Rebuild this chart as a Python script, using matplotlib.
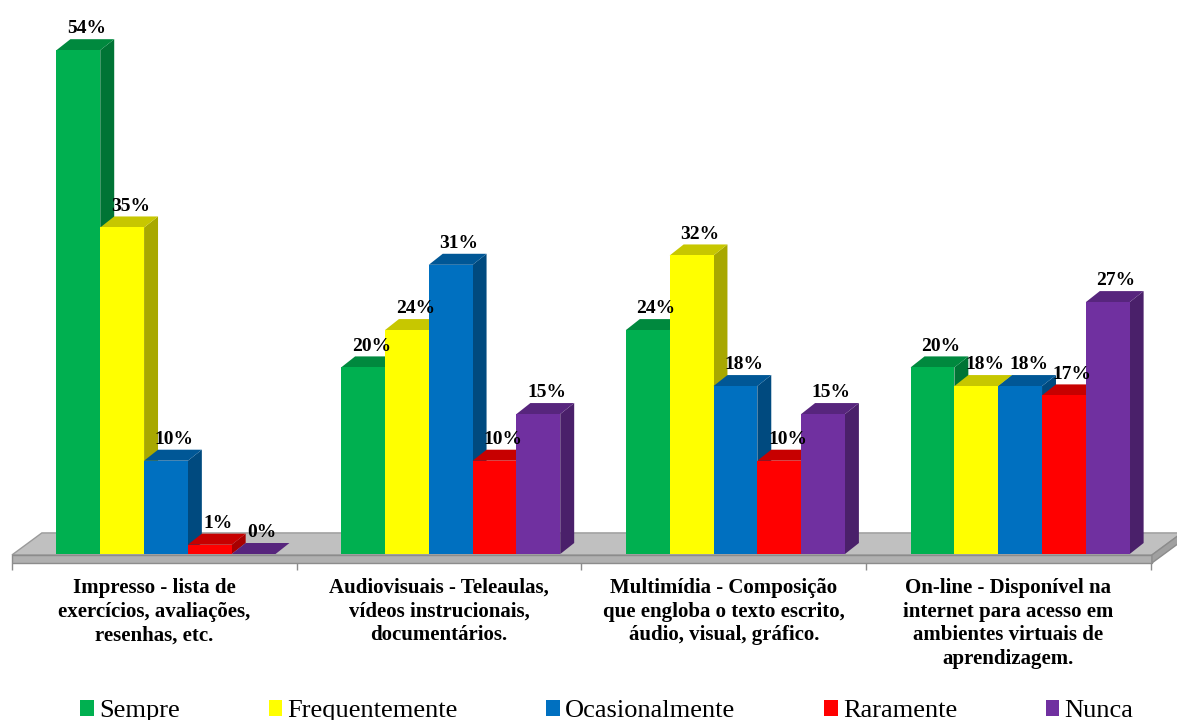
import matplotlib
matplotlib.use("Agg")
from matplotlib import pyplot as plt
from matplotlib.patches import Polygon, Patch
import numpy as np

plt.rcParams['font.family'] = ['Liberation Serif', 'DejaVu Serif']

categories = [
    "Impresso - lista de\nexercícios, avaliações,\nresenhas, etc.",
    "Audiovisuais - Teleaulas,\nvídeos instrucionais,\ndocumentários.",
    "Multimídia - Composição\nque engloba o texto escrito,\náudio, visual, gráfico.",
    "On-line - Disponível na\ninternet para acesso em\nambientes virtuais de\naprendizagem.",
]
series_names = ["Sempre", "Frequentemente", "Ocasionalmente", "Raramente", "Nunca"]
sempre = [54, 20, 24, 20]
frequentemente = [35, 24, 32, 18]
ocasionalmente = [10, 31, 18, 18]
raramente = [1, 10, 10, 17]
nunca = [0, 15, 15, 27]
series_values = [sempre, frequentemente, ocasionalmente, raramente, nunca]

front_colors = ["#00B050", "#FFFF00", "#0070C0", "#FF0000", "#7030A0"]


def shade(hexcol, f):
    c = np.array(matplotlib.colors.to_rgb(hexcol)) * f
    return tuple(c)


# geometry (x: one unit per category, y: percent)
bar_w = 0.1539
dx = 0.049      # depth offset in x
dy = 1.18       # depth offset in y (percent units)
floor_dx = 0.105
floor_dy = 2.36
floor_th = 0.86

fig = plt.figure(figsize=(11.77, 7.2), dpi=100)
ax = fig.add_axes([0, 0, 1, 1])
ax.set_xlim(-0.583, 3.551)
ax.set_ylim(-17.79, 59.38)
ax.axis('off')

n_cat = len(categories)
# floor
fl, fr, fy = -0.541, n_cat - 0.537, -0.1
top_floor = Polygon([(fl, fy), (fr, fy), (fr + floor_dx, fy + floor_dy), (fl + floor_dx, fy + floor_dy)],
                    closed=True, facecolor="#C0C0C0", edgecolor="#9A9A9A", lw=1, zorder=1)
front_floor = Polygon([(fl, fy), (fr, fy), (fr, fy - floor_th), (fl, fy - floor_th)],
                      closed=True, facecolor="#B0B0B0", edgecolor="#8C8C8C", lw=1, zorder=1)
side_floor = Polygon([(fr, fy), (fr + floor_dx, fy + floor_dy), (fr + floor_dx, fy + floor_dy - floor_th),
                      (fr, fy - floor_th)], closed=True, facecolor="#A0A0A0", edgecolor="#8C8C8C", lw=1, zorder=1)
ax.add_patch(top_floor)
ax.add_patch(front_floor)
ax.add_patch(side_floor)

# category ticks
ticks = np.arange(n_cat + 1) - 0.541
ax.vlines(ticks, fy - floor_th, fy - floor_th - 0.8, color="#8C8C8C", lw=1, zorder=1)

z = 2
for gi in range(n_cat):
    for si, vals in enumerate(series_values):
        v = vals[gi]
        x0 = gi - 2.5 * bar_w + si * bar_w
        x1 = x0 + bar_w
        col = front_colors[si]
        side = Polygon([(x1, 0), (x1 + dx, dy), (x1 + dx, v + dy), (x1, v)], closed=True,
                       facecolor=shade(col, 0.66), edgecolor="none", zorder=z)
        top = Polygon([(x0, v), (x1, v), (x1 + dx, v + dy), (x0 + dx, v + dy)], closed=True,
                      facecolor=shade(col, 0.78), edgecolor="none", zorder=z)
        ax.add_patch(side)
        ax.add_patch(top)
        ax.bar(x0, v, width=bar_w, align='edge', color=col, edgecolor="none", zorder=z)
        z += 1
        ax.text(x0 + bar_w / 2 + dx * 0.6, v + dy + 0.2, f"{v}%", ha='center', va='bottom',
                fontsize=14, fontweight='bold', zorder=50)

# category labels
for gi, lab in enumerate(categories):
    ax.text(gi - 0.041, -2.55, lab, ha='center', va='top', fontsize=15, fontweight='bold',
            linespacing=1.25, zorder=50)

handles = [Patch(facecolor=c, edgecolor='none') for c in front_colors]
fig.legend(handles, series_names, loc='center', bbox_to_anchor=(607 / 1177, 9 / 720),
           ncol=5, frameon=False, fontsize=19, handlelength=0.52, handleheight=0.55,
           handletextpad=0.2, columnspacing=3.35, borderpad=0, borderaxespad=0)

fig.savefig("out.png", dpi=100)
